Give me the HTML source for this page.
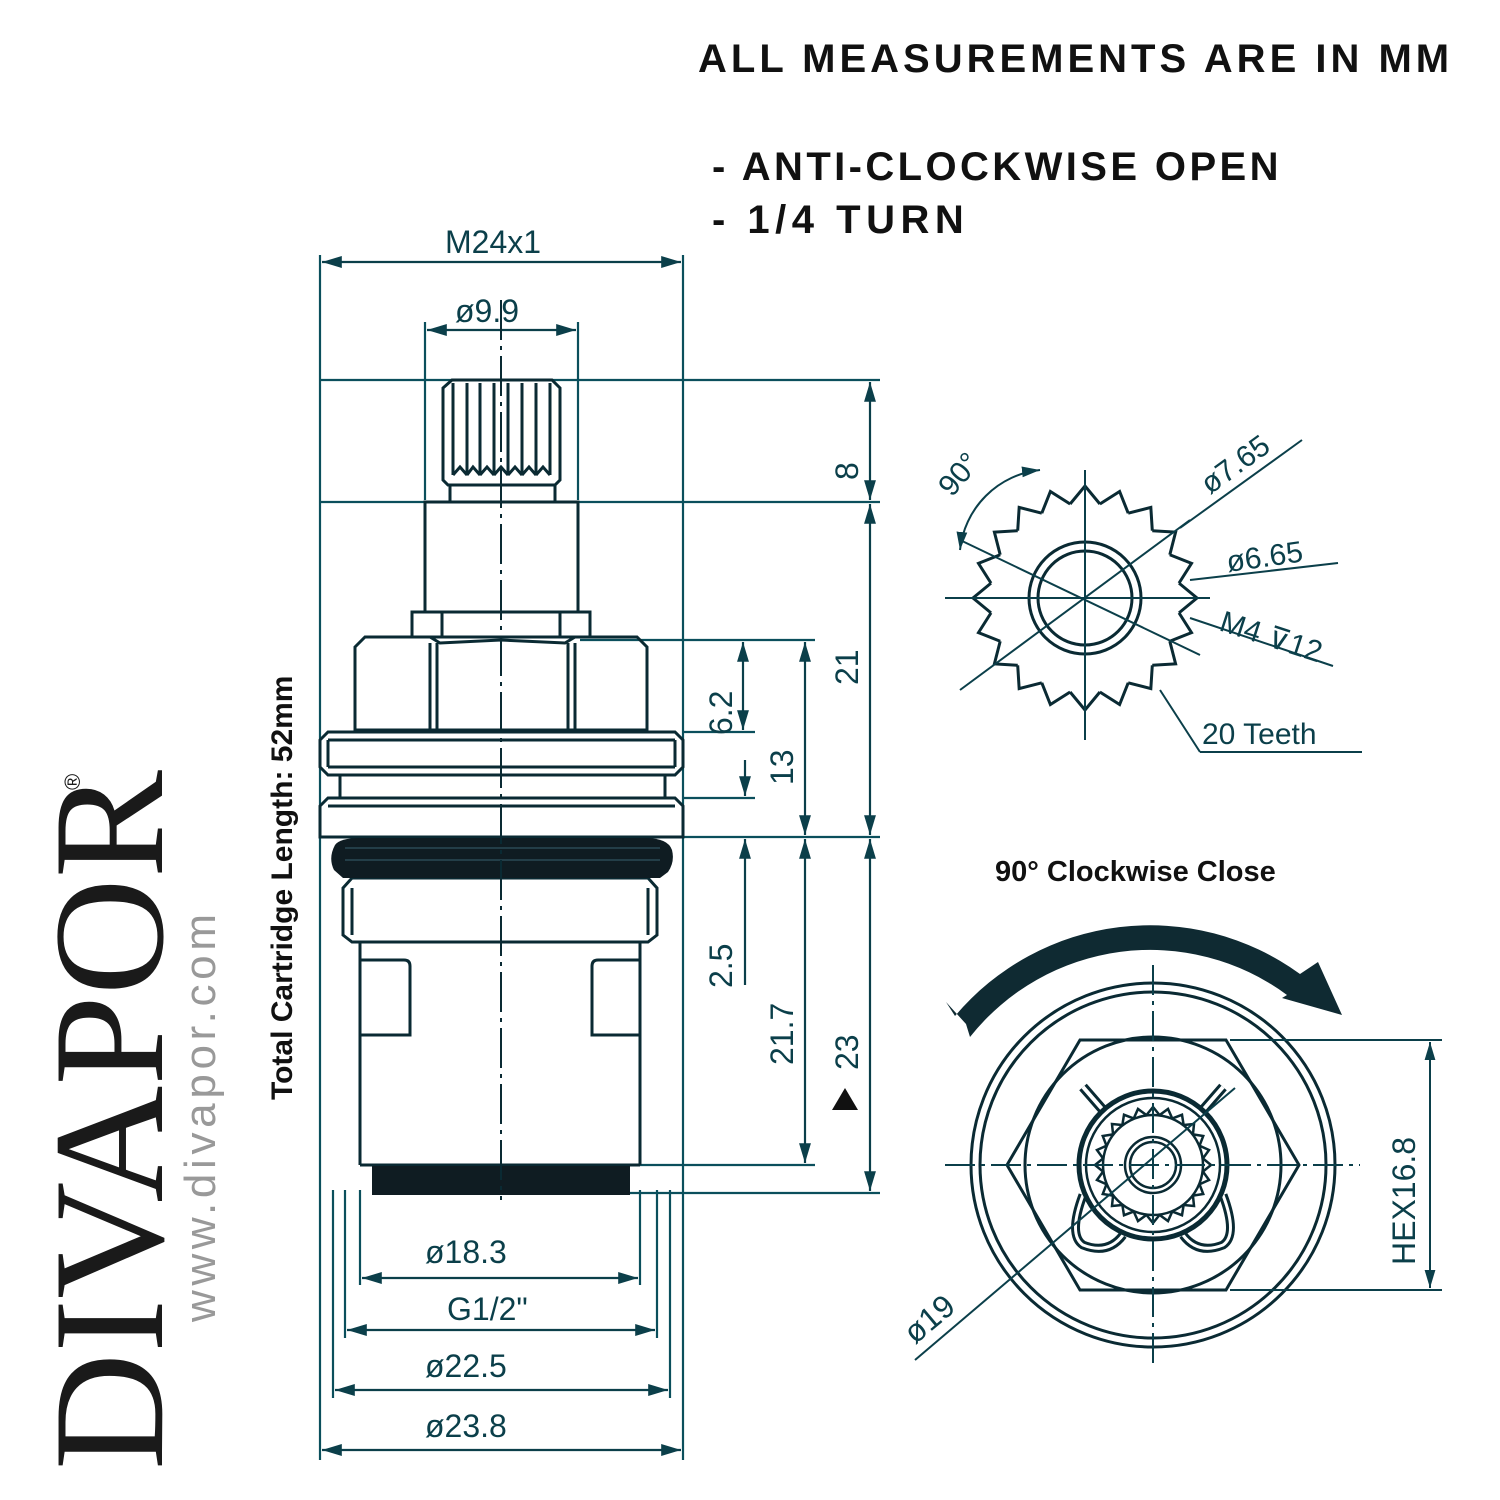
<!DOCTYPE html>
<html><head><meta charset="utf-8"><style>body{margin:0;background:#fff}svg{display:block}</style></head><body>
<svg width="1500" height="1500" viewBox="0 0 1500 1500" xmlns="http://www.w3.org/2000/svg">
<defs>
<marker id="a" viewBox="0 0 10 10" refX="10" refY="5" markerWidth="9" markerHeight="9" orient="auto-start-reverse"><path d="M0,2 L10,5 L0,8 Z" fill="#0b3f4a"/></marker>
<path id="tooth" d="M-14.9,-94 L0,-112 L14.9,-94" fill="none"/>
<path id="st" d="M-6.5,-50 L0,-58 L6.5,-50" fill="none"/>
</defs>
<rect width="1500" height="1500" fill="#fff"/>

<g font-family="Liberation Sans, sans-serif" font-weight="bold" fill="#111">
<text x="698" y="72" font-size="40" letter-spacing="4">ALL MEASUREMENTS ARE IN MM</text>
<text x="712" y="180" font-size="40" letter-spacing="3.4">- ANTI-CLOCKWISE OPEN</text>
<text x="712" y="233" font-size="40" letter-spacing="5.5">- 1/4 TURN</text>
<text x="995" y="881" font-size="29">90° Clockwise Close</text>
<text transform="translate(292,1100) rotate(-90)" font-size="30">Total Cartridge Length: 52mm</text>
</g>

<text transform="translate(162,1470) rotate(-90)" font-family="Liberation Serif, serif" font-size="158" fill="#1a1a1a" textLength="700" lengthAdjust="spacingAndGlyphs">DIVAPOR</text>
<text transform="translate(80,790) rotate(-90)" font-family="Liberation Sans, sans-serif" font-size="22" fill="#1a1a1a">®</text>
<text transform="translate(215,1322) rotate(-90)" font-family="Liberation Sans, sans-serif" font-size="44" fill="#999" textLength="408">www.divapor.com</text>

<g stroke="#0b4f5c" stroke-width="2.2" fill="none">
<line x1="320" y1="255" x2="320" y2="1460"/>
<line x1="683" y1="255" x2="683" y2="1460"/>
<line x1="425" y1="322" x2="425" y2="500"/>
<line x1="578" y1="322" x2="578" y2="500"/>
<line x1="320" y1="380" x2="880" y2="380"/>
<line x1="320" y1="502" x2="880" y2="502"/>
<line x1="580" y1="640" x2="815" y2="640"/>
<line x1="683" y1="732" x2="755" y2="732"/>
<line x1="683" y1="798" x2="755" y2="798"/>
<line x1="320" y1="837" x2="880" y2="837"/>
<line x1="630" y1="1165" x2="815" y2="1165"/>
<line x1="630" y1="1193" x2="880" y2="1193"/>
<line x1="360" y1="1190" x2="360" y2="1285"/>
<line x1="640" y1="1190" x2="640" y2="1285"/>
<line x1="345" y1="1190" x2="345" y2="1338"/>
<line x1="657" y1="1190" x2="657" y2="1338"/>
<line x1="333" y1="1190" x2="333" y2="1398"/>
<line x1="670" y1="1190" x2="670" y2="1398"/>
</g>
<g stroke="#0b3f4a" stroke-width="2.2" fill="none" marker-start="url(#a)" marker-end="url(#a)">
<line x1="322" y1="262" x2="681" y2="262"/>
<line x1="427" y1="330" x2="576" y2="330"/>
<line x1="870" y1="382" x2="870" y2="500"/>
<line x1="870" y1="504" x2="870" y2="835"/>
<line x1="870" y1="839" x2="870" y2="1191"/>
<line x1="805" y1="642" x2="805" y2="835"/>
<line x1="805" y1="839" x2="805" y2="1163"/>
<line x1="743" y1="642" x2="743" y2="730"/>
<line x1="362" y1="1278" x2="638" y2="1278"/>
<line x1="347" y1="1330" x2="655" y2="1330"/>
<line x1="335" y1="1390" x2="668" y2="1390"/>
<line x1="322" y1="1450" x2="681" y2="1450"/>
</g>
<g stroke="#0b3f4a" stroke-width="2.2" fill="none">
<line x1="745" y1="760" x2="745" y2="796" marker-end="url(#a)"/>
<line x1="745" y1="985" x2="745" y2="839" marker-end="url(#a)"/>
</g>
<g font-family="Liberation Sans, sans-serif" font-size="32" fill="#0b3f4a">
<text x="445" y="253">M24x1</text>
<text x="455" y="322">ø9.9</text>
<text x="425" y="1263">ø18.3</text>
<text x="447" y="1320">G1/2"</text>
<text x="425" y="1377">ø22.5</text>
<text x="425" y="1437">ø23.8</text>
<text transform="translate(858,480) rotate(-90)">8</text>
<text transform="translate(858,685) rotate(-90)">21</text>
<text transform="translate(858,1070) rotate(-90)">23</text>
<text transform="translate(793,785) rotate(-90)">13</text>
<text transform="translate(793,1065) rotate(-90)">21.7</text>
<text transform="translate(732,735) rotate(-90)">6.2</text>
<text transform="translate(732,988) rotate(-90)">2.5</text>
</g>
<path d="M832,1110 L858,1110 L845,1088 Z" fill="#111"/>

<g stroke="#0a2a33" stroke-width="3" fill="none">
<path d="M443,388 L452,380 L552,380 L560,388 L560,480 L555,485 L448,485 L443,480 Z"/>
<path d="M453,383 V475 M467,383 V475 M480,383 V475 M494,383 V475 M508,383 V475 M522,383 V475 M536,383 V475 M550,383 V475"/>
<path d="M453,475 L460,467 L467,475 M467,475 L473,467 L480,475 M480,475 L487,467 L494,475 M494,475 L501,467 L508,475 M508,475 L515,467 L522,475 M522,475 L529,467 L536,475 M536,475 L543,467 L550,475"/>
<rect x="450" y="485" width="105" height="17"/>
<rect x="425" y="502" width="153" height="110"/>
<rect x="412" y="612" width="178" height="25"/>
<path d="M442,612 V637 M560,612 V637"/>
<path d="M355,647 L365,637 L430,637 L440,643 L501,640 L565,643 L575,637 L637,637 L647,647 L647,730 L355,730 Z"/>
<path d="M430,643 V730 M437,643 V730 M568,643 V730 M575,643 V730"/>
<path d="M320,740 L328,732 L675,732 L683,740 L683,767 L675,775 L328,775 L320,767 Z"/>
<path d="M328,740 H675 M328,767 H675 M328,740 V767 M675,740 V767"/>
<rect x="340" y="775" width="325" height="23"/>
<path d="M320,806 L328,798 L675,798 L683,806 L683,837 L320,837 Z"/>
<path d="M328,806 H675"/>
<path d="M343,888 L352,878 L648,878 L657,888 L657,935 L648,942 L352,942 L343,935 Z"/>
<path d="M352,888 V935 M648,888 V935"/>
<path d="M360,942 V1165 M640,942 V1165 M360,960 H404 Q410,960 410,966 V1035 H360 M640,960 H598 Q592,960 592,966 V1035 H640"/>
<path d="M360,1165 H640"/>
</g>
<path d="M335,845 Q340,838 360,838 L645,838 Q668,838 672,850 Q675,862 668,872 L660,878 L343,878 L334,870 Q328,858 335,845 Z" fill="#0f1c22"/>
<path d="M345,848 H660 M345,860 H660" stroke="#2a4a55" stroke-width="1.5"/>
<rect x="372" y="1166" width="258" height="29" fill="#0f1c22"/>
<line x1="501" y1="300" x2="501" y2="1200" stroke="#0a2a33" stroke-width="2" stroke-dasharray="40,6,4,6"/>

<g transform="translate(1085,598)" stroke="#0a2a33" stroke-width="3" fill="none">
<g>
<use href="#tooth"/><use href="#tooth" transform="rotate(18)"/><use href="#tooth" transform="rotate(36)"/><use href="#tooth" transform="rotate(54)"/><use href="#tooth" transform="rotate(72)"/><use href="#tooth" transform="rotate(90)"/><use href="#tooth" transform="rotate(108)"/><use href="#tooth" transform="rotate(126)"/><use href="#tooth" transform="rotate(144)"/><use href="#tooth" transform="rotate(162)"/><use href="#tooth" transform="rotate(180)"/><use href="#tooth" transform="rotate(198)"/><use href="#tooth" transform="rotate(216)"/><use href="#tooth" transform="rotate(234)"/><use href="#tooth" transform="rotate(252)"/><use href="#tooth" transform="rotate(270)"/><use href="#tooth" transform="rotate(288)"/><use href="#tooth" transform="rotate(306)"/><use href="#tooth" transform="rotate(324)"/><use href="#tooth" transform="rotate(342)"/>
</g>
<circle r="56"/><circle r="47"/>
</g>
<g stroke="#0b3f4a" stroke-width="2" fill="none">
<line x1="1085" y1="470" x2="1085" y2="740"/>
<line x1="945" y1="598" x2="1210" y2="598"/>
<line x1="960" y1="690" x2="1190" y2="520"/>
<line x1="960" y1="540" x2="1200" y2="655"/>
<line x1="1180" y1="528" x2="1302" y2="440"/>
<line x1="1190" y1="580" x2="1338" y2="563"/>
<line x1="1190" y1="618" x2="1333" y2="666"/>
<line x1="1160" y1="690" x2="1200" y2="752"/>
<line x1="1200" y1="752" x2="1362" y2="752"/>
<path d="M1040,470 A90,90 0 0 0 960,550" marker-start="url(#a)" marker-end="url(#a)"/>
</g>
<g font-family="Liberation Sans, sans-serif" font-size="30" fill="#0b3f4a">
<text transform="translate(1210,495) rotate(-36)">ø7.65</text>
<text transform="translate(1228,572) rotate(-8)">ø6.65</text>
<text transform="translate(1218,630) rotate(18)">M4 ⊽12</text>
<text transform="translate(952,498) rotate(-50)">90°</text>
<text x="1202" y="744">20 Teeth</text>
</g>

<path d="M955,1016 A255,255 0 0 1 1300,974 L1318,962 L1342,1015 L1282,998 L1287,995 A230,230 0 0 0 970,1037 L966,1024 L946,1002 Z" fill="#0f2a32"/>
<g transform="translate(1153,1165)" stroke="#0a2a33" stroke-width="3" fill="none">
<circle r="182"/><circle r="173"/><circle r="128"/>
<path d="M-146,0 L-73,-125 L73,-125 L146,0 L73,125 L-73,125 Z"/>
<path d="M-50,-55 L-70,-78 M50,-55 L70,-78" stroke-width="10"/>
<path d="M-50,-55 L-70,-78 M50,-55 L70,-78" stroke="#fff" stroke-width="4"/>
<path d="M-70,30 Q-85,70 -70,80 Q-45,90 -30,70 M70,30 Q85,70 70,80 Q45,90 30,70" stroke-width="9"/>
<path d="M-70,30 Q-85,70 -70,80 Q-45,90 -30,70 M70,30 Q85,70 70,80 Q45,90 30,70" stroke="#fff" stroke-width="3"/>
<circle r="74" stroke-width="5" fill="#fff"/>
<circle r="67" stroke-width="2.5"/>
<g stroke-width="2.5">
<use href="#st"/><use href="#st" transform="rotate(15)"/><use href="#st" transform="rotate(30)"/><use href="#st" transform="rotate(45)"/><use href="#st" transform="rotate(60)"/><use href="#st" transform="rotate(75)"/><use href="#st" transform="rotate(90)"/><use href="#st" transform="rotate(105)"/><use href="#st" transform="rotate(120)"/><use href="#st" transform="rotate(135)"/><use href="#st" transform="rotate(150)"/><use href="#st" transform="rotate(165)"/><use href="#st" transform="rotate(180)"/><use href="#st" transform="rotate(195)"/><use href="#st" transform="rotate(210)"/><use href="#st" transform="rotate(225)"/><use href="#st" transform="rotate(240)"/><use href="#st" transform="rotate(255)"/><use href="#st" transform="rotate(270)"/><use href="#st" transform="rotate(285)"/><use href="#st" transform="rotate(300)"/><use href="#st" transform="rotate(315)"/><use href="#st" transform="rotate(330)"/><use href="#st" transform="rotate(345)"/>
</g>
<circle r="50" stroke-width="2.5"/>
<circle r="28" stroke-width="2.5"/><circle r="23" stroke-width="2.5"/>
</g>
<g stroke="#0b3f4a" stroke-width="2" fill="none">
<line x1="1153" y1="965" x2="1153" y2="1365" stroke-dasharray="30,6,4,6"/>
<line x1="945" y1="1165" x2="1360" y2="1165" stroke-dasharray="30,6,4,6"/>
<line x1="915" y1="1360" x2="1235" y2="1088"/>
<line x1="1230" y1="1040" x2="1442" y2="1040"/>
<line x1="1230" y1="1290" x2="1442" y2="1290"/>
<line x1="1430" y1="1042" x2="1430" y2="1288" marker-start="url(#a)" marker-end="url(#a)"/>
</g>
<g font-family="Liberation Sans, sans-serif" font-size="32" fill="#0b3f4a">
<text transform="translate(1415,1265) rotate(-90)">HEX16.8</text>
<text transform="translate(915,1345) rotate(-40)">ø19</text>
</g>
</svg>
</body></html>
